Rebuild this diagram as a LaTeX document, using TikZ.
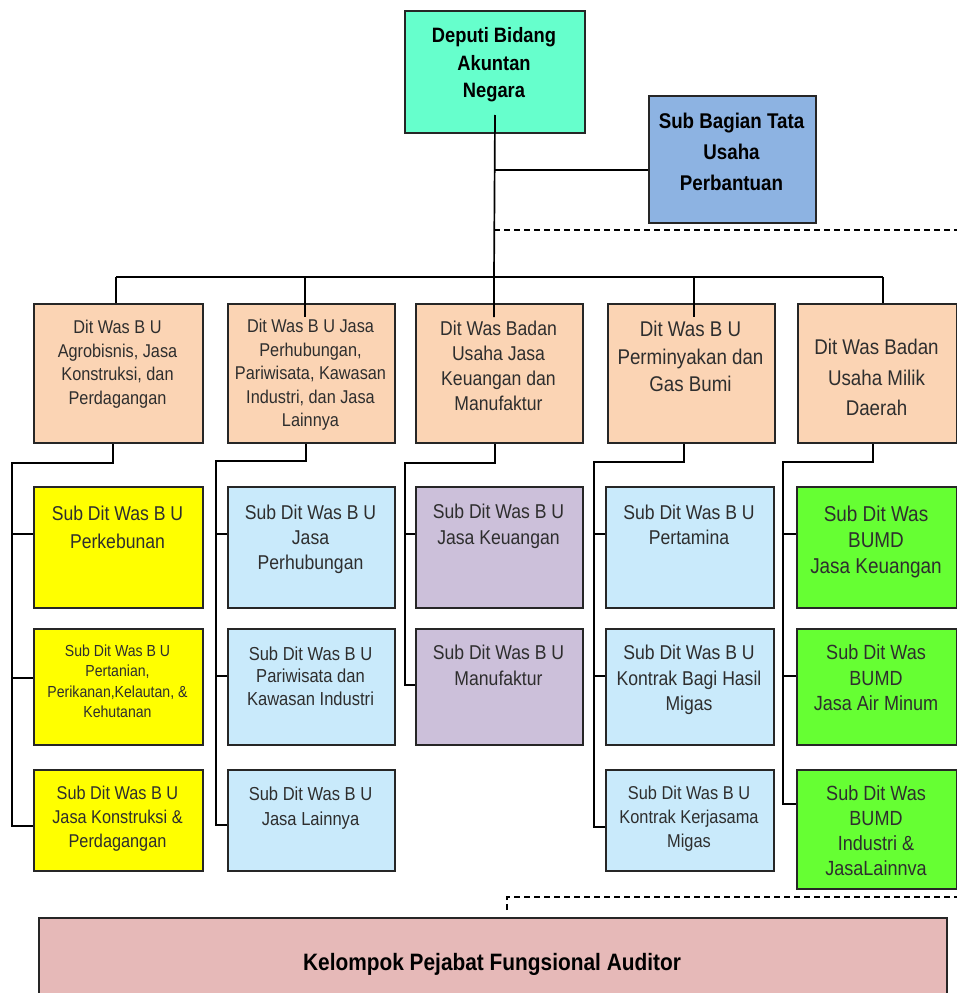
\documentclass[tikz,border=0pt]{standalone}
\usepackage{fontspec}
\setmainfont{Liberation Sans}[FakeStretch=0.88]
\usepackage{tikz}
\usetikzlibrary{calc}

\definecolor{deputigreen}{HTML}{66FFCC}
\definecolor{subblue}{HTML}{8DB3E2}
\definecolor{peach}{HTML}{FBD4B4}
\definecolor{subyellow}{HTML}{FFFF00}
\definecolor{lightblue}{HTML}{C9EAFB}
\definecolor{lilac}{HTML}{CCC0DA}
\definecolor{limegreen}{HTML}{66FF33}
\definecolor{auditpink}{HTML}{E6B9B8}
\definecolor{textgray}{HTML}{2E2E2E}

\newcommand{\boxfont}[2]{\fontsize{#1}{#2}\selectfont}

\begin{document}
\begin{tikzpicture}[x=1pt, y=-1pt,
	unit/.style={draw=black!85, line width=2pt, anchor=north west, inner sep=0pt},
	lbl/.style={anchor=north, align=center, inner sep=0pt, text=textgray},
	link/.style={black, line width=1.7pt},
	dashlink/.style={black, line width=1.8pt, dash pattern=on 6pt off 4pt}]
	\useasboundingbox (0,0) rectangle (957,993);

	% top
	\node[unit, fill=deputigreen, minimum width=180pt, minimum height=122pt] (deputi) at (404,10) {};
	\node[lbl, text=black, font=\boxfont{20.8}{27.5}\bfseries] (deputit) at (494,27.5) {Deputi Bidang\\Akuntan\\Negara};
	\node[unit, fill=subblue, minimum width=167pt, minimum height=127pt] (subbag) at (648,95) {};
	\node[lbl, text=black, font=\boxfont{21.3}{31}\bfseries] (subbagt) at (731.5,113.3) {Sub Bagian Tata\\Usaha\\Perbantuan};

	% direktorat
	\node[unit, fill=peach, minimum width=169pt, minimum height=139pt] (d1) at (33,303) {};
	\node[lbl, font=\boxfont{18.5}{23.5}] (d1t) at (117.5,320.3) {Dit Was B U\\Agrobisnis, Jasa\\Konstruksi, dan\\Perdagangan};
	\node[unit, fill=peach, minimum width=167pt, minimum height=139pt] (d2) at (227,303) {};
	\node[lbl, font=\boxfont{18.5}{23.5}] (d2t) at (310.5,319.3) {Dit Was B U Jasa\\Perhubungan,\\Pariwisata, Kawasan\\Industri, dan Jasa\\Lainnya};
	\node[unit, fill=peach, minimum width=167pt, minimum height=139pt] (d3) at (415,303) {};
	\node[lbl, font=\boxfont{20}{25}] (d3t) at (498.5,320.8) {Dit Was Badan\\Usaha Jasa\\Keuangan dan\\Manufaktur};
	\node[unit, fill=peach, minimum width=167pt, minimum height=139pt] (d4) at (607,303) {};
	\node[lbl, font=\boxfont{21.3}{27.5}] (d4t) at (690.5,321.3) {Dit Was B U\\Perminyakan dan\\Gas Bumi};
	\node[unit, fill=peach, minimum width=159pt, minimum height=139pt] (d5) at (797,303) {};
	\node[lbl, font=\boxfont{21.3}{30.5}] (d5t) at (876.5,339.3) {Dit Was Badan\\Usaha Milik\\Daerah};

	% sub direktorat
	\node[unit, fill=subyellow, minimum width=169pt, minimum height=121pt] (s11) at (33,486) {};
	\node[lbl, font=\boxfont{20}{28}] (s11t) at (117.5,505.8) {Sub Dit Was B U\\Perkebunan};
	\node[unit, fill=subyellow, minimum width=169pt, minimum height=116pt] (s12) at (33,628) {};
	\node[lbl, font=\boxfont{16}{20.5}] (s12t) at (117.5,644.2) {Sub Dit Was B U\\Pertanian,\\Perikanan,Kelautan, \&\\Kehutanan};
	\node[unit, fill=subyellow, minimum width=169pt, minimum height=101pt] (s13) at (33,769) {};
	\node[lbl, font=\boxfont{18.5}{24}] (s13t) at (117.5,786.3) {Sub Dit Was B U\\Jasa Konstruksi \&\\Perdagangan};

	\node[unit, fill=lightblue, minimum width=167pt, minimum height=121pt] (s21) at (227,486) {};
	\node[lbl, font=\boxfont{20}{25}] (s21t) at (310.5,504.8) {Sub Dit Was B U\\Jasa\\Perhubungan};
	\node[unit, fill=lightblue, minimum width=167pt, minimum height=116pt] (s22) at (227,628) {};
	\node[lbl, font=\boxfont{18.8}{22.5}] (s22t) at (310.5,646.2) {Sub Dit Was B U\\Pariwisata dan\\Kawasan Industri};
	\node[unit, fill=lightblue, minimum width=167pt, minimum height=101pt] (s23) at (227,769) {};
	\node[lbl, font=\boxfont{18.8}{25}] (s23t) at (310.5,786.2) {Sub Dit Was B U\\Jasa Lainnya};

	\node[unit, fill=lilac, minimum width=167pt, minimum height=121pt] (s31) at (415,486) {};
	\node[lbl, font=\boxfont{20}{26}] (s31t) at (498.5,503.8) {Sub Dit Was B U\\Jasa Keuangan};
	\node[unit, fill=lilac, minimum width=167pt, minimum height=116pt] (s32) at (415,628) {};
	\node[lbl, font=\boxfont{20}{26}] (s32t) at (498.5,644.8) {Sub Dit Was B U\\Manufaktur};

	\node[unit, fill=lightblue, minimum width=168pt, minimum height=121pt] (s41) at (605,486) {};
	\node[lbl, font=\boxfont{20}{25}] (s41t) at (689,504.8) {Sub Dit Was B U\\Pertamina};
	\node[unit, fill=lightblue, minimum width=168pt, minimum height=116pt] (s42) at (605,628) {};
	\node[lbl, font=\boxfont{20}{25.5}] (s42t) at (689,644.8) {Sub Dit Was B U\\Kontrak Bagi Hasil\\Migas};
	\node[unit, fill=lightblue, minimum width=168pt, minimum height=101pt] (s43) at (605,769) {};
	\node[lbl, font=\boxfont{18.6}{24}] (s43t) at (689,786.3) {Sub Dit Was B U\\Kontrak Kerjasama\\Migas};

	\node[unit, fill=limegreen, minimum width=160pt, minimum height=121pt] (s51) at (796,486) {};
	\node[lbl, font=\boxfont{21.5}{26}] (s51t) at (876,505.3) {Sub Dit Was\\BUMD\\Jasa Keuangan};
	\node[unit, fill=limegreen, minimum width=160pt, minimum height=116pt] (s52) at (796,628) {};
	\node[lbl, font=\boxfont{20.5}{25.5}] (s52t) at (876,644.6) {Sub Dit Was\\BUMD\\Jasa Air Minum};
	\node[unit, fill=limegreen, minimum width=160pt, minimum height=119pt] (s53) at (796,769) {};
	\node[lbl, font=\boxfont{20.5}{25}] (s53t) at (876,785.6) {Sub Dit Was\\BUMD\\Industri \&\\JasaLainnva};

	% fungsional
	\node[unit, fill=auditpink, minimum width=908pt, minimum height=90pt] (kfa) at (38,917) {};
	\node[lbl, text=black, font=\boxfont{23.7}{28}\bfseries] (kfat) at (492,953.5) {Kelompok Pejabat Fungsional Auditor};

	% connectors
	\coordinate (rim) at (957,0);
	\coordinate (t1) at (494,170);
	\coordinate (t2) at (494,230);
	\coordinate (b1) at (116,277);
	\coordinate (b2) at (305,277);
	\coordinate (b3) at (494,277);
	\coordinate (b4) at (694,277);
	\coordinate (b5) at (883,277);
	\draw[link] ($(deputi.south)+(0,-19)$) -- (b3) -- ($(b3 |- d3.north)+(0,14)$);
	\draw[link] (t1) -- (t1 -| subbag.west);
	\draw[dashlink] (t2) -- (t2 -| rim);
	\draw[link] (b1) -- (b5);
	\draw[link] (b1) -- (b1 |- d1.north);
	\draw[link] (b2) -- ($(b2 |- d2.north)+(0,14)$);
	\draw[link] (b4) -- ($(b4 |- d4.north)+(0,14)$);
	\draw[link] (b5) -- (b5 |- d5.north);

	\coordinate (v1) at (12,463);
	\coordinate (v2) at (216,461);
	\coordinate (v3) at (405,463);
	\coordinate (v4) at (594,462);
	\coordinate (v5) at (783,462);
	\draw[link] ($(d1.south)+(-5.5,0)$) |- (v1) |- ($(s13.west)+(0,5.5)$);
	\draw[link] ($(s11.west)+(0,-13.5)$) -- +(-21,0);
	\draw[link] ($(s12.west)+(0,-9)$) -- +(-21,0);
	\draw[link] ($(d2.south)+(-5.5,0)$) |- (v2) |- ($(s23.west)+(0,4.5)$);
	\draw[link] ($(s21.west)+(0,-13.5)$) -- +(-11,0);
	\draw[link] ($(s22.west)+(0,-11)$) -- +(-11,0);
	\draw[link] ($(d3.south)+(-4.5,0)$) |- (v3) |- ($(s32.west)+(0,-2)$);
	\draw[link] ($(s31.west)+(0,-13.5)$) -- +(-10,0);
	\draw[link] ($(d4.south)+(-7.5,0)$) |- (v4) |- ($(s43.west)+(0,6.5)$);
	\draw[link] ($(s41.west)+(0,-13.5)$) -- +(-11,0);
	\draw[link] ($(s42.west)+(0,-11)$) -- +(-11,0);
	\draw[link] ($(d5.south)+(-4.5,0)$) |- (v5) |- ($(s53.west)+(0,-25.5)$);
	\draw[link] ($(s51.west)+(0,-13.5)$) -- +(-13,0);
	\draw[link] ($(s52.west)+(0,-11)$) -- +(-13,0);

	\coordinate (fa) at (507,897);
	\draw[dashlink] ($(fa |- kfa.north)+(0,-7)$) -- (fa) -- (fa -| rim);
\end{tikzpicture}
\end{document}
